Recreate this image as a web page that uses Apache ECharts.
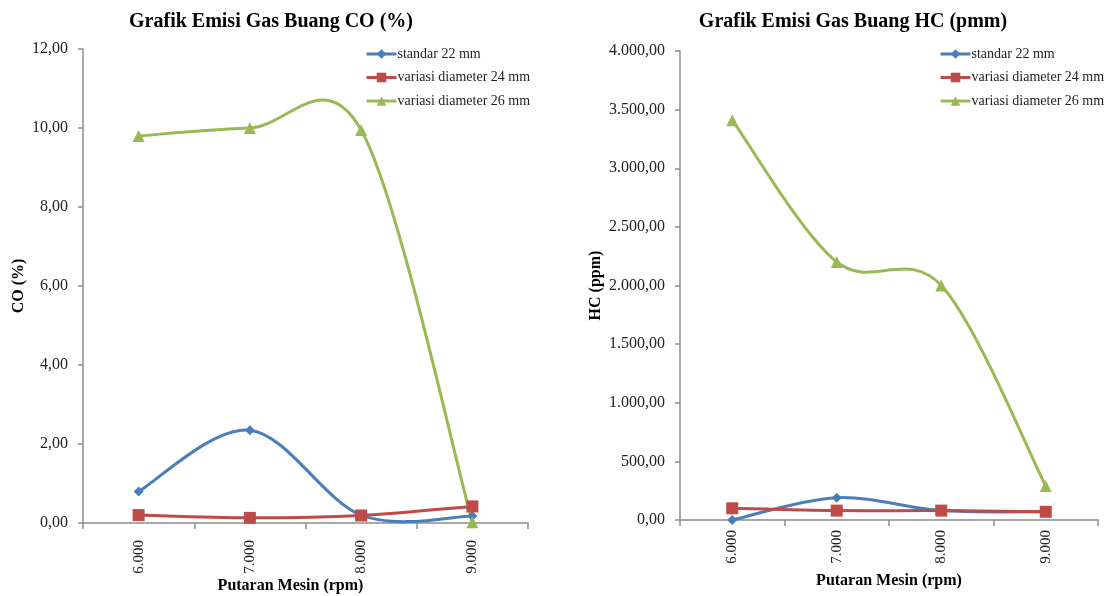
<!DOCTYPE html>
<html>
<head>
<meta charset="utf-8">
<script src="https://cdn.jsdelivr.net/npm/echarts@6/dist/echarts.min.js"></script>
<style>
  html, body { margin: 0; padding: 0; background: #fff; overflow: hidden; }
  #chart { width: 1105px; height: 596px; }
</style>
</head>
<body>
<div id="chart"></div>
<script>
// Engine speed categories (rpm)
const rpm = ['6.000', '7.000', '8.000', '9.000'];
const seriesNames = ['standar 22 mm', 'variasi diameter 24 mm', 'variasi diameter 26 mm'];

// CO emissions (%)
const coStandar22 = [0.80, 2.35, 0.20, 0.18];
const coVariasi24 = [0.20, 0.13, 0.19, 0.42];
const coVariasi26 = [9.80, 10.00, 9.95, 0.02];

// HC emissions (ppm)
const hcStandar22 = [0, 190, 80, 70];
const hcVariasi24 = [100, 80, 80, 70];
const hcVariasi26 = [3410, 2200, 2000, 290];

const colors = ['#4A7EBB', '#BE4B48', '#98B954'];
const symbols = ['diamond', 'rect', 'triangle'];
const symbolSizes = [10, 12, 12];
const serif = '"Liberation Serif", "Times New Roman", serif';
const axisGray = '#8c8c8c';

function fmtNum(v, dec) {
  const parts = Number(v).toFixed(dec).split('.');
  parts[0] = parts[0].replace(/\B(?=(\d{3})+(?!\d))/g, '.');
  return parts.join(',');
}

function xAxis(gridIndex, labelMargin, nameGap, namePad) {
  return {
    type: 'category', gridIndex, data: rpm, boundaryGap: true,
    name: 'Putaran Mesin (rpm)', nameLocation: 'middle', nameGap, nameMoveOverlap: false,
    nameTextStyle: { fontFamily: serif, fontWeight: 'bold', fontSize: 16, color: '#000', padding: namePad },
    axisLine: { lineStyle: { color: axisGray, width: 1.5 } },
    axisTick: { show: true, alignWithLabel: false, length: 6, lineStyle: { color: axisGray, width: 1.5 } },
    axisLabel: { rotate: 90, fontFamily: serif, fontSize: 15, color: '#222', margin: labelMargin }
  };
}

function yAxis(gridIndex, max, interval, name, nameGap, dec) {
  return {
    type: 'value', gridIndex, min: 0, max, interval,
    name, nameLocation: 'middle', nameGap, nameMoveOverlap: false,
    nameTextStyle: { fontFamily: serif, fontWeight: 'bold', fontSize: 16, color: '#000' },
    splitLine: { show: false },
    axisLine: { show: true, lineStyle: { color: axisGray, width: 1.5 } },
    axisTick: { show: true, length: 5, lineStyle: { color: axisGray, width: 1.5 } },
    axisLabel: { fontFamily: serif, fontSize: 16, color: '#222', margin: 15,
      formatter: v => fmtNum(v, dec) }
  };
}

// Smoothed curve through the data points: cubic Bezier segments whose
// control points follow the neighbouring points (Catmull-Rom style, 1/6 tension),
// so the curve may swing past a point the way spreadsheet smoothing does.
function curveSeries(values, idx, axisIdx) {
  return {
    type: 'custom', coordinateSystem: 'cartesian2d',
    xAxisIndex: axisIdx, yAxisIndex: axisIdx,
    data: values.map((v, i) => [i, v]),
    encode: { x: 0, y: 1 },
    silent: true, z: 1,
    renderItem: (params, api) => {
      const n = params.dataInsideLength;
      const i = params.dataIndexInside;
      if (i >= n - 1) return null;
      const pt = k => api.coord([api.value(0, k), api.value(1, k)]);
      const p1 = pt(i), p2 = pt(i + 1);
      const p0 = i > 0 ? pt(i - 1) : p1;
      const p3 = i + 2 < n ? pt(i + 2) : p2;
      const f = 1 / 6;
      return {
        type: 'bezierCurve',
        shape: {
          x1: p1[0], y1: p1[1], x2: p2[0], y2: p2[1],
          cpx1: p1[0] + (p2[0] - p0[0]) * f, cpy1: p1[1] + (p2[1] - p0[1]) * f,
          cpx2: p2[0] - (p3[0] - p1[0]) * f, cpy2: p2[1] - (p3[1] - p1[1]) * f
        },
        style: { stroke: colors[idx], lineWidth: 3, fill: null, lineCap: 'round' }
      };
    }
  };
}

// Markers on the data points (line drawn by the curve series)
function markerSeries(values, idx, axisIdx) {
  return {
    type: 'line', name: seriesNames[idx], xAxisIndex: axisIdx, yAxisIndex: axisIdx,
    data: values, symbol: symbols[idx], symbolSize: symbolSizes[idx],
    lineStyle: { color: colors[idx], width: 3, opacity: 0 },
    itemStyle: { color: colors[idx] }, z: 3 + idx
  };
}

function legend(left, top) {
  return {
    orient: 'vertical', left, top, itemWidth: 30, itemHeight: 12, itemGap: 9.5,
    data: seriesNames.map((n, i) => ({
      name: n,
      lineStyle: { color: colors[i], width: 3, opacity: 1 },
      itemStyle: { color: colors[i] }
    })),
    textStyle: { fontFamily: serif, fontSize: 14, color: '#222', padding: [0, 0, 0, -4] },
    selectedMode: false
  };
}

const chart = echarts.init(document.getElementById('chart'), null, { renderer: 'canvas' });
chart.setOption({
  backgroundColor: '#fff',
  animation: false,
  color: colors,
  title: [
    { text: 'Grafik Emisi Gas Buang CO (%)', left: 266, top: 7, textAlign: 'center',
      textStyle: { fontFamily: serif, fontWeight: 'bold', fontSize: 20, color: '#000' } },
    { text: 'Grafik Emisi Gas Buang HC (pmm)', left: 848, top: 7, textAlign: 'center',
      textStyle: { fontFamily: serif, fontWeight: 'bold', fontSize: 20, color: '#000' } }
  ],
  legend: [legend(360, 42), legend(934, 42)],
  grid: [
    { left: 83, top: 49, width: 445, height: 474, containLabel: false, outerBoundsMode: 'none' },
    { left: 680, top: 51, width: 418, height: 469, containLabel: false, outerBoundsMode: 'none' }
  ],
  xAxis: [xAxis(0, 17, 55, [0, 30, 0, 0]), xAxis(1, 10, 53, 0)],
  yAxis: [
    yAxis(0, 12, 2, 'CO (%)', 56, 2),
    yAxis(1, 4000, 500, 'HC (ppm)', 76, 2)
  ],
  series: [
    curveSeries(coStandar22, 0, 0),
    curveSeries(coVariasi24, 1, 0),
    curveSeries(coVariasi26, 2, 0),
    curveSeries(hcStandar22, 0, 1),
    curveSeries(hcVariasi24, 1, 1),
    curveSeries(hcVariasi26, 2, 1),
    markerSeries(coStandar22, 0, 0),
    markerSeries(coVariasi24, 1, 0),
    markerSeries(coVariasi26, 2, 0),
    markerSeries(hcStandar22, 0, 1),
    markerSeries(hcVariasi24, 1, 1),
    markerSeries(hcVariasi26, 2, 1)
  ]
});
</script>
</body>
</html>
